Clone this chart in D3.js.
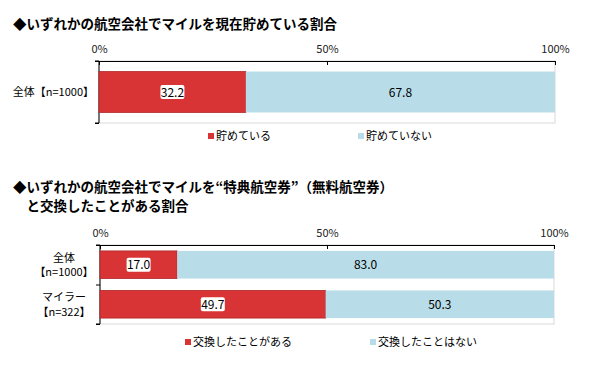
<!DOCTYPE html>
<html>
<head>
<meta charset="utf-8">
<script src="https://cdn.jsdelivr.net/npm/d3@7"></script>
<style>
  body { margin: 0; background: #fff; }
  svg { display: block; }
  text { font-family: "Noto Sans CJK JP", sans-serif; }
</style>
</head>
<body>
<div id="chart"></div>
<script>
// Chart 1: currently saving miles
const title1 = ["◆いずれかの航空会社でマイルを現在貯めている割合"];
const cats1 = [["全体【n=1000】"]];
const series1 = ["貯めている", "貯めていない"];
const yes1 = [32.2];
const no1 = [67.8];

// Chart 2: exchanged miles for award tickets
const title2 = ["◆いずれかの航空会社でマイルを“特典航空券”（無料航空券）", "　と交換したことがある割合"];
const cats2 = [["全体", "【n=1000】"], ["マイラー", "【n=322】"]];
const series2 = ["交換したことがある", "交換したことはない"];
const yes2 = [17.0, 49.7];
const no2 = [83.0, 50.3];

const ticks = [0, 50, 100];
const colors = ["#d83436", "#b8dde8"];
const numFont = "Liberation Sans, Arial, sans-serif";

const svg = d3.select("#chart").append("svg").attr("width", 591).attr("height", 370);

function drawChart(opt) {
  const g = svg.append("g");
  // title
  opt.title.forEach((t, i) => {
    g.append("text").attr("x", 13).attr("y", opt.titleY + i * 19)
      .attr("font-size", 13.5).attr("font-weight", "bold").attr("fill", "#000").text(t);
  });

  const x = d3.scaleLinear().domain([0, 100]).range([opt.x0, opt.x1]);
  const y = d3.scaleBand().domain(opt.cats.map((d, i) => i))
    .range([opt.top, opt.bottom]).paddingInner(opt.pad).paddingOuter(opt.pad / 2);

  // plot frame (light)
  g.append("rect").attr("x", opt.x0).attr("y", opt.top)
    .attr("width", opt.x1 - opt.x0).attr("height", opt.bottom - opt.top)
    .attr("fill", "none").attr("stroke", "#d9d9d9").attr("stroke-width", 1);

  // top axis
  const ax = g.append("g").attr("transform", `translate(0,${opt.top})`)
    .call(d3.axisTop(x).tickValues(ticks).tickSize(4).tickSizeOuter(0).tickFormat(d => d + "%"));
  ax.select(".domain").attr("stroke", "#000");
  ax.selectAll(".tick line").attr("stroke", "#000").attr("y2", 4);
  ax.selectAll(".tick text").attr("font-size", 11).attr("fill", "#222")
    .attr("y", -8).attr("font-family", numFont);

  // left axis
  const ay = g.append("g").attr("transform", `translate(${opt.x0},0)`)
    .call(d3.axisLeft(d3.scaleLinear().domain([0, opt.cats.length]).range([opt.top, opt.bottom]))
      .tickValues(d3.range(opt.cats.length + 1)).tickSize(4).tickFormat(""));
  ay.select(".domain").attr("stroke", "#000").attr("d", `M-4,${opt.top}H0V${opt.bottom}H-4`);
  ay.selectAll(".tick line").attr("stroke", "#000");

  // category labels
  opt.cats.forEach((lines, i) => {
    const cy = y(i) + y.bandwidth() / 2;
    lines.forEach((l, j) => {
      g.append("text")
        .attr("x", opt.labelX).attr("y", cy + (j - (lines.length - 1) / 2) * 14.5 + 4)
        .attr("text-anchor", opt.labelAnchor).attr("font-size", 11).attr("fill", "#000")
        .text(l);
    });
  });

  // bars
  const rows = opt.cats.map((c, i) => ({ i, yes: opt.yes[i], no: opt.no[i] }));
  g.selectAll(".yes").data(rows).join("rect")
    .attr("x", x(0)).attr("y", d => y(d.i))
    .attr("width", d => x(d.yes) - x(0)).attr("height", y.bandwidth())
    .attr("fill", colors[0]).attr("stroke", "#b02a2c").attr("stroke-width", 0.8);
  g.selectAll(".no").data(rows).join("rect")
    .attr("x", d => x(d.yes)).attr("y", d => y(d.i))
    .attr("width", d => x(100) - x(d.yes)).attr("height", y.bandwidth())
    .attr("fill", colors[1]);

  // value labels
  rows.forEach(d => {
    const cy = y(d.i) + y.bandwidth() / 2 + 4.5;
    const lx = x(d.yes / 2);
    const w = 24;
    g.append("rect").attr("x", lx - w / 2).attr("y", cy - 11.5).attr("width", w).attr("height", 14)
      .attr("fill", "#fff").attr("rx", 2);
    g.append("text").attr("x", lx).attr("y", cy)
      .attr("text-anchor", "middle").attr("font-size", 12).attr("fill", "#000")
      .attr("font-family", numFont).text(d.yes.toFixed(1));
    g.append("text").attr("x", x(d.yes + d.no / 2)).attr("y", cy)
      .attr("text-anchor", "middle").attr("font-size", 12).attr("fill", "#000")
      .attr("font-family", numFont).text(d.no.toFixed(1));
  });

  // legend
  opt.series.forEach((s, k) => {
    const lx = opt.legendX[k];
    g.append("rect").attr("x", lx).attr("y", opt.legendY - 7).attr("width", 6).attr("height", 6)
      .attr("fill", colors[k]);
    g.append("text").attr("x", lx + 8).attr("y", opt.legendY).attr("font-size", 11)
      .attr("fill", "#000").text(s);
  });
}

drawChart({
  title: title1, titleY: 29, cats: cats1, series: series1, yes: yes1, no: no1,
  x0: 99, x1: 555, top: 61, bottom: 123, pad: 0.34,
  labelX: 94, labelAnchor: "end", legendY: 140, legendX: [208, 358]
});

drawChart({
  title: title2, titleY: 192, cats: cats2, series: series2, yes: yes2, no: no2,
  x0: 100, x1: 554, top: 245, bottom: 324, pad: 0.3,
  labelX: 64, labelAnchor: "middle", legendY: 346, legendX: [185, 370]
});
</script>
</body>
</html>
